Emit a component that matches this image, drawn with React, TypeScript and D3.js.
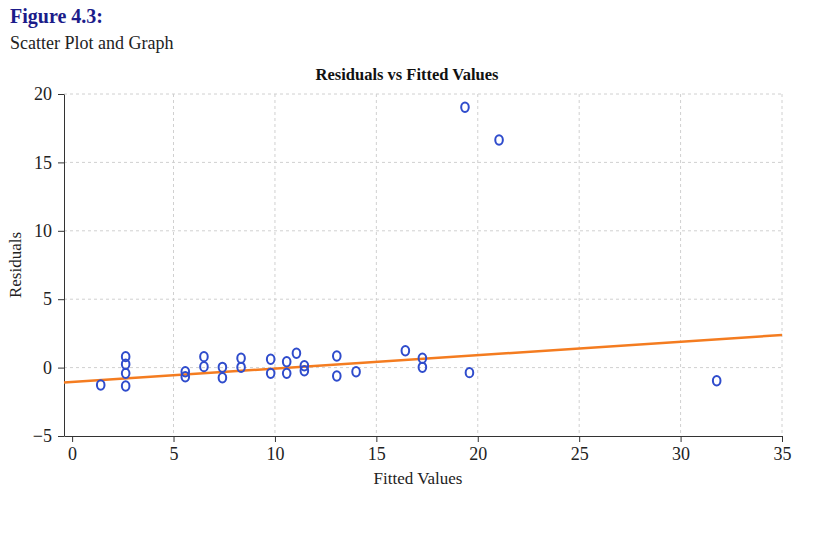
import { useEffect, useRef } from "react";
import * as d3 from "d3";

// fitted values and residuals
const fitted = [
  1.41, 2.64, 2.64, 2.64, 2.64, 5.58, 5.58, 6.5, 6.5, 7.41, 7.41, 8.33, 8.33,
  9.79, 9.79, 10.58, 10.58, 11.06, 11.45, 11.45, 13.05, 13.05, 14.0, 16.43,
  17.27, 17.27, 19.37, 19.59, 21.05, 31.78,
];
const residuals = [
  -1.27, 0.8, 0.24, -0.42, -1.35, -0.3, -0.67, 0.8, 0.07, 0.02, -0.74, 0.68,
  0.02, 0.61, -0.42, 0.43, -0.42, 1.05, 0.14, -0.23, 0.85, -0.61, -0.3, 1.23,
  0.68, 0.02, 19.03, -0.37, 16.64, -0.96,
];

// trend line through the residuals
const trendIntercept = -1.05;
const trendSlope = 0.098;

const xTicks = [0, 5, 10, 15, 20, 25, 30, 35];
const yTicks = [-5, 0, 5, 10, 15, 20];

const W = 820;
const H = 543;
const plot = { left: 64, right: 782, top: 94, bottom: 436 };
const FONT = "'Liberation Serif', 'Times New Roman', serif";

export default function App() {
  const ref = useRef<SVGSVGElement | null>(null);

  useEffect(() => {
    if (!ref.current) return;
    const svg = d3.select(ref.current);
    svg.selectAll("*").remove();

    const x = d3.scaleLinear().domain([-0.4, 35]).range([plot.left, plot.right]);
    const y = d3.scaleLinear().domain([-5, 20]).range([plot.bottom, plot.top]);

    svg
      .append("text")
      .attr("x", 10)
      .attr("y", 23)
      .attr("font-family", FONT)
      .attr("font-size", 20)
      .attr("font-weight", "bold")
      .attr("fill", "#1c1c8a")
      .text("Figure 4.3:");

    svg
      .append("text")
      .attr("x", 10)
      .attr("y", 49)
      .attr("font-family", FONT)
      .attr("font-size", 18)
      .attr("fill", "#222")
      .text("Scatter Plot and Graph");

    // grid
    const grid = svg.append("g").attr("stroke", "#d0d0d0").attr("stroke-dasharray", "3,3");
    grid
      .selectAll("line.h")
      .data(yTicks.filter((t) => t > -5))
      .enter()
      .append("line")
      .attr("x1", plot.left)
      .attr("x2", plot.right)
      .attr("y1", (d) => y(d))
      .attr("y2", (d) => y(d));
    grid
      .selectAll("line.v")
      .data(xTicks.filter((t) => t > 0))
      .enter()
      .append("line")
      .attr("x1", (d) => x(d))
      .attr("x2", (d) => x(d))
      .attr("y1", plot.top)
      .attr("y2", plot.bottom);

    // axes
    const xAxis = svg
      .append("g")
      .attr("transform", `translate(0,${plot.bottom})`)
      .call(d3.axisBottom(x).tickValues(xTicks).tickSize(6).tickSizeOuter(0).tickPadding(5));
    const yAxis = svg
      .append("g")
      .attr("transform", `translate(${plot.left},0)`)
      .call(d3.axisLeft(y).tickValues(yTicks).tickSize(6).tickSizeOuter(0).tickPadding(6));
    [xAxis, yAxis].forEach((a) => {
      a.select(".domain").attr("stroke", "#333");
      a.selectAll(".tick line").attr("stroke", "#333");
      a.selectAll(".tick text")
        .attr("font-family", FONT)
        .attr("font-size", 18)
        .attr("fill", "#222");
    });
    yAxis.selectAll(".tick text").text((d: any) => (d < 0 ? `\u2212${-d}` : `${d}`));

    // trend line
    const xd = x.domain();
    svg
      .append("line")
      .attr("x1", x(xd[0]))
      .attr("y1", y(trendIntercept + trendSlope * xd[0]))
      .attr("x2", x(xd[1]))
      .attr("y2", y(trendIntercept + trendSlope * xd[1]))
      .attr("stroke", "#f47c20")
      .attr("stroke-width", 2.5);

    // points
    svg
      .append("g")
      .selectAll("ellipse")
      .data(fitted.map((f, i) => ({ f, r: residuals[i] })))
      .enter()
      .append("ellipse")
      .attr("cx", (d) => x(d.f))
      .attr("cy", (d) => y(d.r))
      .attr("rx", 3.8)
      .attr("ry", 4.7)
      .attr("fill", "none")
      .attr("stroke", "#2f4ccc")
      .attr("stroke-width", 2);

    svg
      .append("text")
      .attr("x", 407)
      .attr("y", 80)
      .attr("text-anchor", "middle")
      .attr("font-family", FONT)
      .attr("font-size", 16.5)
      .attr("font-weight", "bold")
      .attr("fill", "#111")
      .text("Residuals vs Fitted Values");

    svg
      .append("text")
      .attr("x", 418)
      .attr("y", 484)
      .attr("text-anchor", "middle")
      .attr("font-family", FONT)
      .attr("font-size", 17)
      .attr("fill", "#222")
      .text("Fitted Values");

    svg
      .append("text")
      .attr("transform", `translate(21,${(plot.top + plot.bottom) / 2}) rotate(-90)`)
      .attr("text-anchor", "middle")
      .attr("font-family", FONT)
      .attr("font-size", 17)
      .attr("fill", "#222")
      .text("Residuals");
  }, []);

  return (
    <svg
      ref={ref}
      width={W}
      height={H}
      style={{ position: "absolute", left: 0, top: 0, background: "#fff" }}
    />
  );
}
